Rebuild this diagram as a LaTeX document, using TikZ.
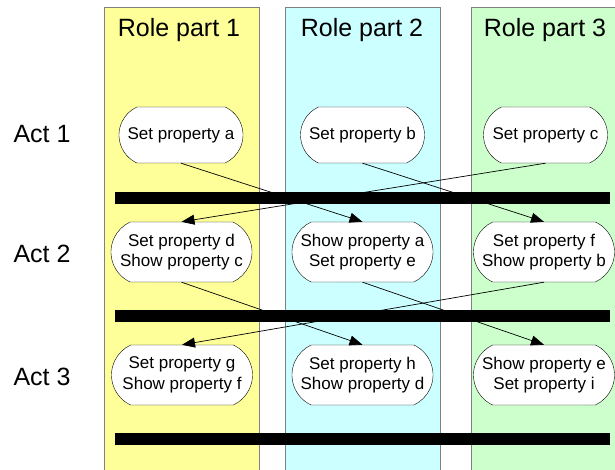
\documentclass[tikz,border=0pt]{standalone}
\usepackage{fontspec}
\setmainfont{Liberation Sans}
\usetikzlibrary{arrows.meta,shapes.misc}

\definecolor{roleyellow}{HTML}{FFFF99}
\definecolor{rolecyan}{HTML}{CCFFFF}
\definecolor{rolegreen}{HTML}{CCFFCC}

\begin{document}
\begin{tikzpicture}[x=1pt,y=-1pt,
    lane/.style={draw=gray,line width=1pt},
    title/.style={font=\fontsize{25}{29}\selectfont},
    act/.style={font=\fontsize{25}{29}\selectfont,anchor=west},
    prop/.style={rounded rectangle,rounded rectangle arc length=130,
      draw,fill=white,align=center,inner xsep=1pt,inner ysep=2pt,
      font=\fontsize{17}{20.5}\selectfont},
    row1/.style={prop,minimum width=126pt,minimum height=56pt},
    row2/.style={prop,minimum width=143pt,minimum height=60pt},
    flow/.style={-{Triangle[length=13pt,width=10pt]},line width=0.7pt}]
\useasboundingbox (0,0) rectangle (615,470);
\fill[roleyellow] (104,8) rectangle (259,475);
\fill[rolecyan] (285,8) rectangle (440,475);
\fill[rolegreen] (471,8) rectangle (620,475);
\draw[lane] (104,475) -- (104,8) -- (259,8) -- (259,475);
\draw[lane] (285,475) -- (285,8) -- (440,8) -- (440,475);
\draw[lane] (471,475) -- (471,8) -- (620,8);

\node[title] (role1) at (179,30) {Role part 1};
\node[title] (role2) at (362,30) {Role part 2};
\node[title] (role3) at (545,30) {Role part 3};

\node[act] (act1) at (10,134) {Act 1};
\node[act] (act2) at (10,254) {Act 2};
\node[act] (act3) at (10,377) {Act 3};

\node[row1] (seta) at (181,135) {Set property a};
\node[row1] (setb) at (362.5,135) {Set property b};
\node[row1] (setc) at (545.5,135) {Set property c};

\node[row2] (setd) at (181.5,252) {Set property d\\Show property c};
\node[row2] (sete) at (362.5,252) {Show property a\\Set property e};
\node[row2] (setf) at (544,252) {Set property f\\Show property b};

\node[row2] (setg) at (182,375) {Set property g\\Show property f};
\node[row2] (seth) at (362.5,375) {Set property h\\Show property d};
\node[row2] (seti) at (544,375) {Show property e\\Set property i};

\draw[flow] (seta.south) -- (sete.north);
\draw[flow] (setb.south) -- (setf.north);
\draw[flow] (setc.south) -- (setd.north);
\draw[flow] (setd.south) -- (seth.north);
\draw[flow] (sete.south) -- (seti.north);
\draw[flow] (setf.south) -- (setg.north);

\fill (115,192) rectangle (610,204);
\fill (115,310) rectangle (610,322);
\fill (115,433) rectangle (610,445);
\end{tikzpicture}
\end{document}
